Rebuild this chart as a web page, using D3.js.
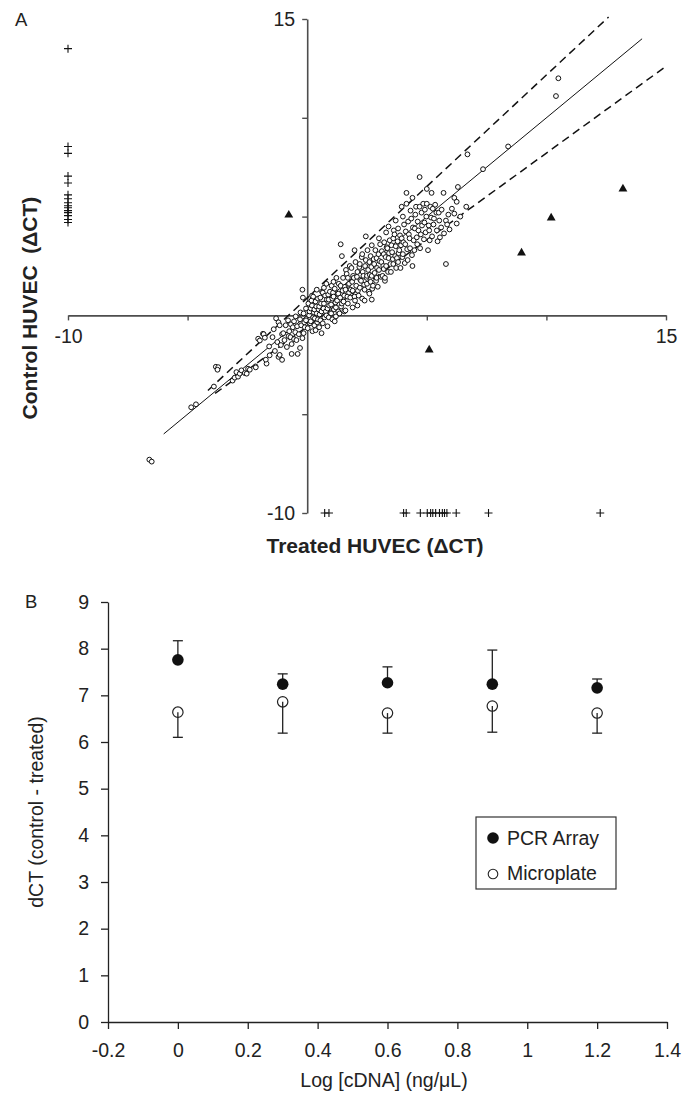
<!DOCTYPE html>
<html>
<head>
<meta charset="utf-8">
<script src="https://cdn.jsdelivr.net/npm/d3@7"></script>
<style>
  body { margin: 0; background: #fff; }
  svg { display: block; font-family: "Liberation Sans", Arial, Helvetica, sans-serif; }
</style>
</head>
<body>
<div id="chart"></div>
<script>
// ---------- Panel A : control vs treated dCT ----------
// genes detected in both samples [treated, control]
const bothDetected = [
  [-6.6,-7.3],[-6.5,-7.4],[-4.85,-4.65],[-4.65,-4.5],[-3.9,-3.6],[-3.82,-2.6],[-3.72,-2.62],[-3.75,-2.75],
  [-3.12,-3.3],[-3.03,-3.15],[-2.96,-2.87],[-2.89,-3.1],[-2.82,-2.95],[-2.75,-2.78],[-2.61,-2.92],[-2.53,-2.95],
  [-2.47,-2.7],[-2.4,-2.75],[-2.16,-2.58],[-2.15,-2.63],[-2.05,-1.18],[-1.98,-1.27],[-1.85,-0.93],[-1.82,-0.95],
  [-1.77,-1.13],[-1.7,-2.44],[-1.73,-2.24],[-1.59,-1.57],[-1.57,-2.02],
  [-1.45,-1.1],[-1.4,-0.7],[-1.35,-1.8],[-1.3,-0.15],[-1.25,-1.35],[-1.2,-0.35],[-1.2,-2.1],[-1.15,-0.5],
  [-1.15,-2.0],[-1.1,-1.5],[-1.05,-2.25],[-1.05,-0.95],
  [-1.0,-0.9],[-0.95,-1.25],[-0.9,-0.5],[-0.85,-1.6],[-0.8,-0.25],[-0.78,-1.05],[-0.75,-0.8],[-0.7,-1.1],
  [-0.68,-0.45],[-0.65,-1.45],[-0.65,-1.95],[-0.6,-0.6],[-0.55,-0.3],[-0.55,-1.2],[-0.5,-0.85],
  [-0.48,-0.05],[-0.45,-1.25],[-0.42,-0.55],[-0.4,-1.95],[-0.35,-0.95],[-0.3,-0.2],[-0.3,-1.65],[-0.28,0.15],
  [-0.25,-0.5],[-0.2,-1.15],[-0.2,1.3],[-0.18,0.9],[-0.15,0.1],[-0.15,-0.9],[-0.12,-0.35],[-0.1,-0.6],
  [-0.05,-0.25],[-0.05,0.35],
  [0.02,-0.65],[0.05,0.6],[0.08,0.0],[0.1,0.2],[0.12,-0.4],[0.15,-0.3],[0.15,0.35],[0.18,0.75],[0.2,0.5],
  [0.2,1.0],[0.22,-0.8],[0.25,-0.1],[0.25,0.95],[0.28,0.15],[0.3,0.3],[0.3,-0.5],[0.32,-0.15],[0.35,0.7],
  [0.35,-0.75],[0.38,0.45],[0.4,0.1],[0.4,1.3],[0.42,-0.35],[0.45,-0.2],[0.45,0.85],[0.48,0.3],
  [0.5,0.45],[0.5,-0.6],[0.52,0.05],[0.55,0.9],[0.55,-0.25],[0.58,0.6],[0.6,-0.9],[0.6,0.2],[0.62,1.2],
  [0.65,-0.4],[0.65,1.15],[0.68,0.35],[0.7,0.6],[0.7,1.4],[0.72,-0.1],[0.75,1.0],[0.78,0.2],[0.8,0.0],
  [0.8,1.6],[0.82,0.8],[0.85,-0.55],[0.85,0.35],[0.88,1.05],[0.9,0.8],[0.9,-0.1],[0.92,0.5],[0.95,1.2],[0.98,0.15],
  [1.0,0.1],[1.0,0.55],[1.02,1.5],[1.05,-0.2],[1.05,0.85],[1.08,1.15],[1.1,0.95],[1.1,1.7],[1.12,0.3],
  [1.15,-0.3],[1.15,1.35],[1.18,0.65],[1.2,0.4],[1.2,-0.05],[1.22,1.9],[1.25,0.75],[1.28,1.05],[1.3,1.1],
  [1.3,0.2],[1.32,1.6],[1.35,0.1],[1.38,0.9],[1.4,1.5],[1.4,3.6],[1.42,0.45],[1.45,0.6],[1.45,3.0],[1.48,1.25],
  [1.5,1.9],[1.52,0.7],[1.55,0.2],[1.55,1.0],[1.58,1.45],[1.6,0.25],[1.6,1.3],[1.62,2.3],[1.65,2.1],
  [1.68,0.95],[1.7,0.6],[1.7,1.9],[1.72,1.55],[1.75,1.6],[1.75,1.15],[1.78,2.5],[1.8,0.9],[1.82,1.3],
  [1.85,2.4],[1.88,1.7],[1.9,0.4],[1.9,1.25],[1.92,2.0],[1.95,1.9],[1.98,0.95],[1.98,3.3],
  [2.0,0.75],[2.02,2.7],[2.05,1.5],[2.08,1.95],[2.1,2.2],[2.1,0.5],[2.12,1.25],[2.15,1.0],[2.18,2.45],
  [2.2,2.6],[2.2,1.4],[2.22,1.8],[2.25,1.75],[2.28,2.95],[2.3,0.85],[2.3,3.1],[2.32,2.2],[2.35,2.0],
  [2.38,1.55],[2.4,0.75],[2.4,1.3],[2.42,2.5],[2.45,2.8],[2.45,4.0],[2.48,1.9],
  [2.5,1.6],[2.5,2.0],[2.52,3.3],[2.55,2.3],[2.58,1.2],[2.6,1.1],[2.6,2.7],[2.62,2.05],[2.65,3.0],
  [2.65,1.7],[2.68,2.45],[2.7,0.8],[2.7,3.55],[2.7,2.0],[2.72,1.35],[2.75,1.5],[2.78,2.85],[2.8,2.6],
  [2.82,2.15],[2.85,3.3],[2.88,1.75],[2.9,1.9],[2.9,2.9],[2.92,2.4],[2.95,1.45],[2.98,3.1],
  [3.0,2.3],[3.0,3.9],[3.02,2.75],[3.05,3.6],[3.08,1.95],[3.1,2.7],[3.12,3.25],[3.15,2.0],[3.18,2.5],
  [3.2,3.1],[3.2,2.35],[3.22,3.7],[3.25,1.75],[3.25,1.9],[3.28,2.95],[3.3,2.5],[3.3,4.2],[3.32,3.45],
  [3.35,3.4],[3.38,2.2],[3.4,2.9],[3.4,4.5],[3.42,3.15],[3.45,3.8],[3.48,2.6],
  [3.5,2.2],[3.52,3.55],[3.55,3.2],[3.58,2.85],[3.6,2.6],[3.6,3.9],[3.62,4.3],[3.65,4.1],[3.68,3.0],
  [3.7,3.5],[3.7,4.8],[3.72,2.4],[3.75,2.9],[3.78,3.75],[3.8,4.4],[3.8,2.7],[3.82,3.15],[3.85,3.3],
  [3.88,4.05],[3.9,2.4],[3.92,3.55],[3.95,3.9],[3.95,5.5],[3.98,2.95],
  [4.0,3.1],[4.0,5.0],[4.02,3.7],[4.05,4.6],[4.08,2.65],[4.1,3.6],[4.12,4.25],[4.15,6.2],[4.15,5.65],
  [4.18,3.35],[4.2,2.8],[4.22,4.75],[4.25,4.1],[4.28,3.9],[4.3,3.4],[4.32,5.3],[4.35,4.9],[4.38,3.05],
  [4.4,2.5],[4.4,5.95],[4.42,4.45],[4.45,3.8],[4.48,3.3],[4.5,4.4],
  [4.52,5.1],[4.55,5.5],[4.58,3.95],[4.6,3.6],[4.62,4.75],[4.65,4.3],[4.7,5.5],[4.7,7.0],[4.72,3.4],
  [4.75,4.1],[4.78,5.2],[4.8,4.55],[4.85,5.65],[4.88,3.85],[4.9,4.7],[4.92,5.35],[4.95,4.2],[4.98,5.0],
  [5.0,5.65],[5.0,6.4],[5.05,3.3],[5.08,4.55],[5.1,4.3],[5.12,3.8],[5.15,5.5],[5.18,4.95],[5.2,6.2],
  [5.22,4.0],[5.25,5.4],[5.28,4.6],[5.3,4.9],[5.35,5.6],[5.4,5.2],[5.42,4.3],[5.45,3.75],
  [5.5,5.2],[5.52,4.8],[5.55,3.95],[5.6,4.45],[5.62,5.35],[5.7,6.2],[5.72,4.15],[5.8,4.8],[5.8,2.6],
  [5.85,4.6],[5.9,5.1],[5.95,4.35],
  [6.05,5.4],[6.15,5.95],[6.15,5.15],[6.25,5.75],[6.25,4.65],[6.3,6.5],[6.4,5.0],[6.65,5.5],[6.7,8.15],
  [7.35,7.4],[8.4,8.55],[10.4,11.1],[10.5,12.0]
];
// detected only in control (plotted at treated = -10)
const controlOnly = [13.5, 8.55, 8.2, 7.05, 6.7, 6.1, 5.9, 5.7, 5.55, 5.45, 5.3, 5.2, 5.05, 4.85, 4.7];
// detected only in treated (plotted at control = -10)
const treatedOnly = [0.73, 0.91, 4.03, 4.14, 4.73, 5.02, 5.16, 5.25, 5.37, 5.53, 5.65, 5.74, 5.84, 6.23, 7.58, 12.25];
// discordant genes
const discordant = [[-0.77, 5.08], [5.1, -1.75], [8.96, 3.16], [10.2, 4.93], [13.2, 6.4]];
const identityLine = [[-6, -6], [14, 14]];
const upperLimit = [[-4.15, -3.8], [12.6, 15.1]];
const lowerLimit = [[-3.85, -3.95], [15.05, 12.65]];
const ticksA = [-10, -5, 0, 5, 10, 15];

// ---------- Panel B : dCT vs cDNA input ----------
const logConc = [0, 0.3, 0.6, 0.9, 1.2];
const pcrArray = [7.76, 7.24, 7.27, 7.24, 7.16];
const pcrArraySD = [0.41, 0.22, 0.34, 0.73, 0.19];
const microplate = [6.64, 6.86, 6.62, 6.77, 6.62];
const microplateSD = [0.54, 0.67, 0.43, 0.56, 0.43];
const xTicksB = [-0.2, 0, 0.2, 0.4, 0.6, 0.8, 1, 1.2, 1.4];
const yTicksB = [0, 1, 2, 3, 4, 5, 6, 7, 8, 9];

const W = 691, H = 1095;
const svg = d3.select('#chart').append('svg').attr('width', W).attr('height', H);

// ===== Panel A =====
const xA = d3.scaleLinear().domain([-10, 15]).range([68, 666]);
const yA = d3.scaleLinear().domain([-10, 15]).range([513, 19]);
const gA = svg.append('g');
const axisColor = '#4d4d4d';

const labelA = d => (d === 15 || d === -10) ? String(d) : '';

gA.append('g')
  .attr('transform', `translate(0,${yA(0)})`)
  .call(d3.axisBottom(xA).tickValues(ticksA).tickSize(5).tickSizeOuter(0).tickPadding(9).tickFormat(labelA))
  .call(g => g.select('.domain').attr('stroke', axisColor).attr('stroke-width', 1.6))
  .call(g => g.selectAll('.tick line').attr('stroke', axisColor).attr('stroke-width', 1.4))
  .call(g => g.selectAll('text').attr('font-size', 19.5).attr('font-family', null).attr('fill', '#222'));

gA.append('g')
  .attr('transform', `translate(${xA(0)},0)`)
  .call(d3.axisLeft(yA).tickValues(ticksA.filter(d => d !== 0)).tickSize(5).tickSizeOuter(0).tickPadding(7).tickFormat(labelA))
  .call(g => g.select('.domain').attr('stroke', axisColor).attr('stroke-width', 1.6))
  .call(g => g.selectAll('.tick line').attr('stroke', axisColor).attr('stroke-width', 1.4))
  .call(g => g.selectAll('text').attr('font-size', 19.5).attr('font-family', null).attr('fill', '#222'));

const lineA = d3.line().x(d => xA(d[0])).y(d => yA(d[1]));
gA.append('path').datum(identityLine).attr('d', lineA)
  .attr('fill', 'none').attr('stroke', '#111').attr('stroke-width', 1);
[upperLimit, lowerLimit].forEach(l => {
  gA.append('path').datum(l).attr('d', lineA)
    .attr('fill', 'none').attr('stroke', '#111').attr('stroke-width', 1.5)
    .attr('stroke-dasharray', '8,5');
});

gA.append('g').selectAll('circle').data(bothDetected).enter().append('circle')
  .attr('cx', d => xA(d[0])).attr('cy', d => yA(d[1])).attr('r', 2.4)
  .attr('fill', '#fff').attr('stroke', '#111').attr('stroke-width', 1);

const plus = 'M-4,0H4M0,-4V4';
gA.append('g').selectAll('path').data(controlOnly).enter().append('path')
  .attr('transform', d => `translate(${xA(-10)},${yA(d)})`).attr('d', plus)
  .attr('stroke', '#111').attr('stroke-width', 1.1).attr('fill', 'none');
gA.append('g').selectAll('path').data(treatedOnly).enter().append('path')
  .attr('transform', d => `translate(${xA(d)},${yA(-10)})`).attr('d', plus)
  .attr('stroke', '#111').attr('stroke-width', 1.1).attr('fill', 'none');

gA.append('g').selectAll('path').data(discordant).enter().append('path')
  .attr('transform', d => `translate(${xA(d[0])},${yA(d[1])})`)
  .attr('d', d3.symbol(d3.symbolTriangle).size(34))
  .attr('fill', '#111');

gA.append('text').attr('x', 15).attr('y', 26).attr('font-size', 18.5).attr('fill', '#222').text('A');
gA.append('text')
  .attr('transform', 'translate(37,308) rotate(-90)')
  .attr('text-anchor', 'middle').attr('font-size', 21).attr('font-weight', 'bold')
  .style('white-space', 'pre').attr('fill', '#222')
  .text('Control HUVEC  (\u0394CT)');
gA.append('text')
  .attr('x', 375).attr('y', 553)
  .attr('text-anchor', 'middle').attr('font-size', 21).attr('font-weight', 'bold').attr('fill', '#222')
  .text('Treated HUVEC (\u0394CT)');

// ===== Panel B =====
const xB = d3.scaleLinear().domain([-0.2, 1.4]).range([108, 667]);
const yB = d3.scaleLinear().domain([0, 9]).range([1022, 602]);
const gB = svg.append('g');
const ink = '#222';

gB.append('g')
  .attr('transform', `translate(0,${yB(0)})`)
  .call(d3.axisBottom(xB).tickValues(xTicksB).tickSize(7).tickSizeOuter(0).tickPadding(14)
    .tickFormat(d => String(+d.toFixed(1))))
  .call(g => g.selectAll('.domain, .tick line').attr('stroke', ink).attr('stroke-width', 1.3))
  .call(g => g.selectAll('text').attr('font-size', 19.5).attr('font-family', null).attr('fill', ink));

gB.append('g')
  .attr('transform', `translate(${xB(-0.2)},0)`)
  .call(d3.axisLeft(yB).tickValues(yTicksB).tickSize(7).tickSizeOuter(0).tickPadding(12))
  .call(g => g.selectAll('.domain, .tick line').attr('stroke', ink).attr('stroke-width', 1.3))
  .call(g => g.selectAll('text').attr('font-size', 19.5).attr('font-family', null).attr('fill', ink));

const cap = 5;
// PCR array: error bar upward, filled circle
logConc.forEach((c, i) => {
  const x = xB(c), y0 = yB(pcrArray[i]), y1 = yB(pcrArray[i] + pcrArraySD[i]);
  gB.append('line').attr('x1', x).attr('x2', x).attr('y1', y0).attr('y2', y1).attr('stroke', ink).attr('stroke-width', 1.3);
  gB.append('line').attr('x1', x - cap).attr('x2', x + cap).attr('y1', y1).attr('y2', y1).attr('stroke', ink).attr('stroke-width', 1.3);
});
gB.append('g').selectAll('circle').data(logConc).enter().append('circle')
  .attr('cx', d => xB(d)).attr('cy', (d, i) => yB(pcrArray[i])).attr('r', 5.8).attr('fill', '#111');

// Microplate: open circle, error bar downward
gB.append('g').selectAll('circle').data(logConc).enter().append('circle')
  .attr('cx', d => xB(d)).attr('cy', (d, i) => yB(microplate[i])).attr('r', 5.2)
  .attr('fill', '#fff').attr('stroke', ink).attr('stroke-width', 1.2);
logConc.forEach((c, i) => {
  const x = xB(c), y0 = yB(microplate[i]), y1 = yB(microplate[i] - microplateSD[i]);
  gB.append('line').attr('x1', x).attr('x2', x).attr('y1', y0).attr('y2', y1).attr('stroke', ink).attr('stroke-width', 1.3);
  gB.append('line').attr('x1', x - cap).attr('x2', x + cap).attr('y1', y1).attr('y2', y1).attr('stroke', ink).attr('stroke-width', 1.3);
});

// legend
const lg = gB.append('g').attr('transform', 'translate(476,817)');
lg.append('rect').attr('width', 140).attr('height', 72).attr('fill', '#fff').attr('stroke', '#333').attr('stroke-width', 1.2);
lg.append('circle').attr('cx', 17).attr('cy', 21).attr('r', 5.8).attr('fill', '#111');
lg.append('text').attr('x', 31).attr('y', 28).attr('font-size', 19.5).attr('fill', ink).text('PCR Array');
lg.append('circle').attr('cx', 17).attr('cy', 57).attr('r', 4.8).attr('fill', '#fff').attr('stroke', ink).attr('stroke-width', 1.1);
lg.append('text').attr('x', 31).attr('y', 63).attr('font-size', 19.5).attr('fill', ink).text('Microplate');

gB.append('text').attr('x', 25).attr('y', 608).attr('font-size', 18.5).attr('fill', ink).text('B');
gB.append('text')
  .attr('transform', 'translate(43,812) rotate(-90)')
  .attr('text-anchor', 'middle').attr('font-size', 19.5).attr('fill', ink)
  .text('dCT (control - treated)');
gB.append('text')
  .attr('x', 384).attr('y', 1087)
  .attr('text-anchor', 'middle').attr('font-size', 19.5).attr('fill', ink)
  .text('Log [cDNA] (ng/\u03bcL)');
</script>
</body>
</html>
